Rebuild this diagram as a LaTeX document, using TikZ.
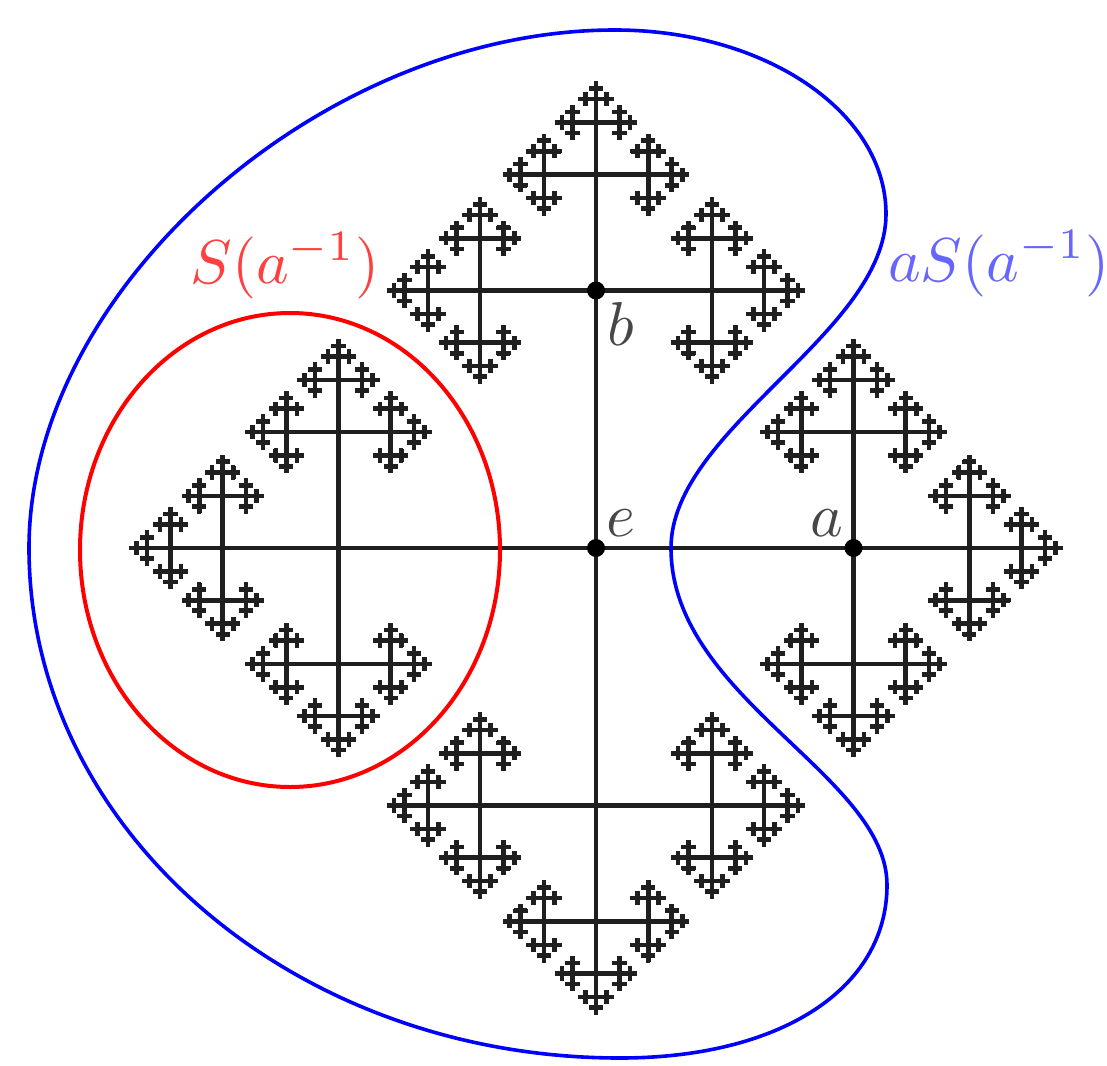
\documentclass[tikz,border=0pt]{standalone}
\usetikzlibrary{calc}
\tikzset{
  treeline/.style={line width=2.35pt, black!88},
  vertexdot/.style={circle, fill=black, inner sep=0pt, minimum size=9pt},
  vlabel/.style={inner sep=0pt, scale=3.1, text=black!72},
  redset/.style={red, line width=2pt},
  blueset/.style={blue, line width=1.8pt},
}
\newcommand\fbranch[5]{%
  \ifnum#5>0
  \begingroup
  \edef\fbA{#1}\edef\fbB{#2}\edef\fbC{#3}\edef\fbD{#4}%
  \pgfmathsetmacro\fbx{\fbA+\fbC}%
  \pgfmathsetmacro\fby{\fbB+\fbD}%
  \draw[treeline] (\fbA,\fbB) -- (\fbx,\fby);
  \pgfmathsetmacro\fbdx{\fbC*0.45}%
  \pgfmathsetmacro\fbdy{\fbD*0.45}%
  \pgfmathsetmacro\fbndx{-\fbdy}%
  \pgfmathsetmacro\fbndy{-\fbdx}%
  \pgfmathtruncatemacro\fbl{#5-1}%
  \fbranch{\fbx}{\fby}{\fbdx}{\fbdy}{\fbl}%
  \fbranch{\fbx}{\fby}{\fbndx}{\fbdx}{\fbl}%
  \fbranch{\fbx}{\fby}{\fbdy}{\fbndy}{\fbl}%
  \endgroup
  \fi}
\begin{document}
\begin{tikzpicture}[x=0.5pt,y=-0.5pt]
\useasboundingbox (0,0) rectangle (1107,1065);
% Cayley graph of F2
\fbranch{596}{548}{257.5}{0}{7}
\fbranch{596}{548}{-257.5}{0}{7}
\fbranch{596}{548}{0}{257.5}{7}
\fbranch{596}{548}{0}{-257.5}{7}
\node[vertexdot] (e) at (596,548) {};
\node[vertexdot] (a) at (853.5,548) {};
\node[vertexdot] (b) at (596,290.5) {};
\node[vlabel] (le) at (621,523) {$e$};
\node[vlabel] (la) at (827,523) {$a$};
\node[vlabel] (lb) at (621,324) {$b$};
% red set S(a^{-1})
\draw[redset] (290,550) ellipse [x radius=210, y radius=237];
\node[inner sep=0pt, scale=3.1, text=red!75] (ls) at (285,266) {$S(a^{-1})$};
% blue set aS(a^{-1})
\draw[blueset] (29,548) .. controls (29,289) and (322,30) .. (615,30)
  .. controls (765,30) and (886,112) .. (886,214)
  .. controls (886,333) and (671,429) .. (671,548)
  .. controls (671,698) and (887,775) .. (887,885)
  .. controls (887,989) and (780,1058) .. (620,1058)
  .. controls (294,1058) and (29,830) .. (29,548) -- cycle;
\node[inner sep=0pt, scale=3.1, text=blue!60] (las) at (999,264) {$aS(a^{-1})$};
\end{tikzpicture}
\end{document}
